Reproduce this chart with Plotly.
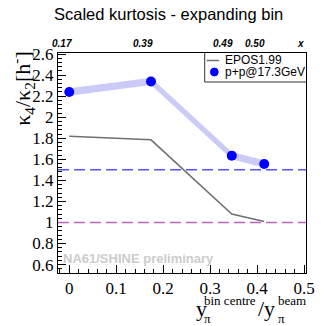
import plotly.graph_objects as go

# data
x_data = [0.0, 0.174, 0.346, 0.415]
y_data = [2.24, 2.34, 1.635, 1.556]
sys_err = [0.035, 0.035, 0.035, 0.035]
x_epos = [0.0, 0.174, 0.346, 0.415]
y_epos = [1.82, 1.785, 1.08, 1.01]
top_labels = ["0.17", "0.39", "0.49", "0.50"]
ref_lines = [1.5, 1.0]
legend_names = ["EPOS1.99", "p+p@17.3GeV"]

L, R, T, B = 58, 315, 53, 273
W, H = 326, 326
def px(x): return (x - L) / (R - L)
def py(y): return (B - y) / (B - T)

fig = go.Figure()
upper = [v + e for v, e in zip(y_data, sys_err)]
lower = [v - e for v, e in zip(y_data, sys_err)]
fig.add_trace(go.Scatter(x=x_data, y=upper, mode="lines", line=dict(width=0, color="rgba(0,0,0,0)"),
                         showlegend=False, hoverinfo="skip"))
fig.add_trace(go.Scatter(x=x_data, y=lower, mode="lines", line=dict(width=0, color="rgba(0,0,0,0)"),
                         fill="tonexty", fillcolor="#cbcbf7", showlegend=False, hoverinfo="skip"))
fig.add_trace(go.Scatter(x=x_epos, y=y_epos, mode="lines", name=legend_names[0], showlegend=False,
                         line=dict(color="#707070", width=1.5)))
fig.add_trace(go.Scatter(x=x_data, y=y_data, mode="markers", name=legend_names[1], showlegend=False,
                         marker=dict(color="#0000ff", size=10)))

def A(text, x, y, size, family="Liberation Sans", xanchor="center", yanchor="middle", color="#000", **kw):
    return dict(text=text, x=px(x), y=py(y), xref="paper", yref="paper", xanchor=xanchor,
                yanchor=yanchor, showarrow=False, font=dict(family=family, size=size, color=color), **kw)

serif = "Liberation Serif"
ann = []
ann.append(A("Scaled kurtosis - expanding bin", 172, 14, 16.5))
for xv, lab in zip(x_data, top_labels):
    xp = 70 + xv * 483
    ann.append(A(f"<b><i>{lab}</i></b>", xp - 8, 43, 10))
ann.append(A("<b><i>x</i></b>", 309, 43, 10))
ann.append(A("<b>NA61/SHINE preliminary</b>", 61, 258, 13, xanchor="left", color="#cccccc"))
ann.append(A("κ<sub>4</sub>/κ<sub>2</sub>[h<sup>-</sup>]", 21, 49, 22, family=serif,
             yanchor="top", textangle=-90))
ann.append(A("y", 199, 308, 22, family=serif, xanchor="left"))
ann.append(A("bin centre", 207, 300, 13, family=serif, xanchor="left"))
ann.append(A("π", 207, 318, 13, family=serif, xanchor="left"))
ann.append(A("/y", 263, 308, 22, family=serif, xanchor="left"))
ann.append(A("beam", 284, 300, 13, family=serif, xanchor="left"))
ann.append(A("π", 284, 318, 13, family=serif, xanchor="left"))
# custom legend text
ann.append(A(legend_names[0], 229, 60.5, 12, xanchor="left", align="left"))
ann.append(A(legend_names[1], 229, 72, 12, xanchor="left", align="left"))

def pline(x0, y0, x1, y1, color, width=1, dash="solid"):
    return dict(type="line", xref="paper", yref="paper", x0=px(x0), x1=px(x1), y0=py(y0), y1=py(y1),
                line=dict(color=color, width=width, dash=dash))

shapes = [
    dict(type="line", xref="paper", yref="y", x0=0, x1=1, y0=ref_lines[0], y1=ref_lines[0],
         line=dict(color="#5555f5", width=1.5, dash="11px,5px")),
    dict(type="line", xref="paper", yref="y", x0=0, x1=1, y0=ref_lines[1], y1=ref_lines[1],
         line=dict(color="#c060c0", width=1.5, dash="11px,5px")),
    pline(210, 53, 210, 82, "#333"),
    pline(210, 82, 315, 82, "#333"),
    pline(212, 60.5, 225, 60.5, "#707070", 1.5),
    dict(type="circle", xref="paper", yref="paper", x0=px(216), x1=px(224), y0=py(68), y1=py(76),
         line=dict(color="#0000ff", width=1), fillcolor="#0000ff"),
]

fig.update_layout(
    width=W, height=H, margin=dict(l=L, r=W - R, t=T, b=H - B),
    plot_bgcolor="white", paper_bgcolor="white",
    annotations=ann, shapes=shapes,
    xaxis=dict(range=[-0.024, 0.504], tickvals=[0, 0.1, 0.2, 0.3, 0.4, 0.5],
               ticktext=["0", "0.1", "0.2", "0.3", "0.4", "0.5"],
               ticks="inside", ticklen=8, tickcolor="#000", showgrid=False, zeroline=False,
               showline=True, linecolor="#000", linewidth=1, mirror=True,
               tickfont=dict(family=serif, size=17, color="#000"),
               minor=dict(ticks="inside", ticklen=4, dtick=0.02, tick0=0, tickcolor="#000", showgrid=False)),
    yaxis=dict(range=[0.52, 2.61], tickvals=[0.6, 0.8, 1, 1.2, 1.4, 1.6, 1.8, 2, 2.2, 2.4, 2.6],
               ticktext=["0.6", "0.8", "1", "1.2", "1.4", "1.6", "1.8", "2", "2.2", "2.4", "2.6"],
               ticks="inside", ticklen=8, tickcolor="#000", showgrid=False, zeroline=False,
               showline=True, linecolor="#000", linewidth=1, mirror=True,
               tickfont=dict(family=serif, size=17, color="#000"),
               minor=dict(ticks="inside", ticklen=4, dtick=0.04, tick0=0.6, tickcolor="#000", showgrid=False)),
    showlegend=False,
)
fig.write_html("out.html")
